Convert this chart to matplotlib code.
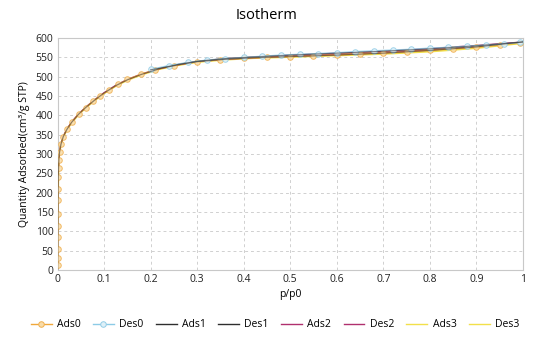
import matplotlib
matplotlib.use("Agg")
import matplotlib.pyplot as plt

plt.rcParams['font.family'] = ['Open Sans', 'DejaVu Sans']

# adsorption branch, sample 0 (with markers)
p_ads0 = [0.0001, 0.0002, 0.0003, 0.0004, 0.0005, 0.0006, 0.0008, 0.001, 0.0013,
          0.0018, 0.0025, 0.004, 0.007, 0.012, 0.02, 0.03, 0.045, 0.06, 0.075,
          0.09, 0.11, 0.13, 0.15, 0.18, 0.21, 0.25, 0.3, 0.35, 0.4, 0.45, 0.5,
          0.55, 0.6, 0.65, 0.7, 0.75, 0.8, 0.85, 0.9, 0.95, 0.995]
q_ads0 = [12, 30, 55, 85, 115, 145, 180, 210, 240,
          265, 285, 305, 325, 345, 364, 382, 403, 420, 436,
          449, 465, 480, 493, 507, 518, 529, 539, 544, 548, 550, 552,
          554, 556, 559, 561, 564, 568, 572, 576, 582, 588]

# desorption branch, sample 0
p_des0 = [0.995, 0.96, 0.92, 0.88, 0.84, 0.8, 0.76, 0.72, 0.68, 0.64, 0.6,
          0.56, 0.52, 0.48, 0.44, 0.4, 0.36, 0.32, 0.28, 0.24, 0.2]
q_des0 = [589, 585, 582, 579, 576, 574, 571, 569, 567, 565, 562,
          560, 558, 556, 553, 550, 547, 543, 537, 529, 519]

# other samples drawn as plain lines
p_line = [0.0, 0.0003, 0.0006, 0.001, 0.0015, 0.0025, 0.004, 0.007, 0.012, 0.02,
          0.03, 0.045, 0.06, 0.08, 0.1, 0.125, 0.15, 0.18, 0.22, 0.26, 0.3,
          0.36, 0.42, 0.5, 0.6, 0.7, 0.8, 0.9, 1.0]
q_ads1 = [0, 55, 145, 210, 250, 285, 305, 325, 345, 364,
          382, 403, 420, 440, 458, 477, 492, 506, 521, 531, 539,
          545, 549, 552, 556, 561, 568, 577, 590]
q_ads2 = [0, 56, 146, 211, 251, 286, 306, 326, 346, 365,
          383, 404, 421, 441, 459, 478, 493, 507, 521, 531, 539,
          545, 549, 553, 557, 562, 569, 578, 590]
q_ads3 = [0, 54, 144, 209, 249, 284, 304, 324, 344, 363,
          381, 402, 419, 439, 457, 476, 491, 505, 520, 530, 538,
          544, 548, 551, 555, 559, 565, 574, 587]

p_des_line = [1.0, 0.9, 0.8, 0.7, 0.6, 0.5, 0.42, 0.36, 0.3, 0.26, 0.22, 0.2]
q_des1 = [590, 580, 572, 566, 561, 556, 551, 547, 540, 532, 522, 518]
q_des2 = [590, 581, 573, 566, 561, 556, 551, 547, 540, 532, 522, 518]
q_des3 = [588, 578, 569, 563, 558, 554, 550, 546, 539, 531, 521, 517]

fig = plt.figure(figsize=(5.34, 3.4), dpi=100)
ax = fig.add_axes([0.108, 0.206, 0.871, 0.682])

ax.plot(p_line, q_ads3, color='#f2e04a', lw=1.3, label='Ads3', zorder=2)
ax.plot(p_des_line, q_des3, color='#f2e04a', lw=1.3, label='Des3', zorder=2)
ax.plot(p_line, q_ads2, color='#b0306e', lw=0.9, label='Ads2', zorder=2)
ax.plot(p_des_line, q_des2, color='#b0306e', lw=0.9, label='Des2', zorder=2)
ax.plot(p_ads0, q_ads0, color='#f0a83a', lw=1.0, marker='o', ms=4,
        mfc='#f9dca8', mec='#f0b050', mew=0.7, alpha=0.85, label='Ads0', zorder=3)
ax.plot(p_des0, q_des0, color='#8ccbe6', lw=1.0, marker='o', ms=4,
        mfc='#dff0f8', mec='#93cde6', mew=0.7, alpha=0.85, label='Des0', zorder=3)
ax.plot(p_line, q_ads1, color='#2e2e2e', lw=0.8, alpha=0.55, label='Ads1', zorder=4)
ax.plot(p_des_line, q_des1, color='#2e2e2e', lw=0.8, alpha=0.55, label='Des1', zorder=4)

ax.set_xlim(0, 1)
ax.set_ylim(0, 600)
ax.set_xticks([i / 10 for i in range(11)])
ax.set_xticklabels(['0', '0.1', '0.2', '0.3', '0.4', '0.5', '0.6', '0.7', '0.8', '0.9', '1'])
ax.set_yticks(range(0, 601, 50))
ax.tick_params(labelsize=7.5, length=0, pad=3, colors='#222222')
ax.grid(True, ls=(0, (3, 3)), color='#d0d0d0', lw=0.7)
for s in ax.spines.values():
    s.set_color('#c8c8c8')

ax.set_xlabel('p/p0', fontsize=7.5, labelpad=3)
ax.set_ylabel('Quantity Adsorbed(cm³/g STP)', fontsize=7.5, labelpad=4)
fig.text(0.5, 0.955, 'Isotherm', ha='center', va='center', fontsize=10.5)

handles, labels = ax.get_legend_handles_labels()
order = ['Ads0', 'Des0', 'Ads1', 'Des1', 'Ads2', 'Des2', 'Ads3', 'Des3']
hmap = dict(zip(labels, handles))
leg = fig.legend([hmap[k] for k in order], order, loc='center', bbox_to_anchor=(0.515, 0.045),
                 ncol=8, frameon=False, fontsize=7.5, handlelength=2.0, columnspacing=1.2,
                 handletextpad=0.5)
# full-strength swatches in the legend
for line in leg.get_lines():
    line.set_alpha(1)
    line.set_linewidth(1.0)

fig.savefig('out.png', dpi=100)
